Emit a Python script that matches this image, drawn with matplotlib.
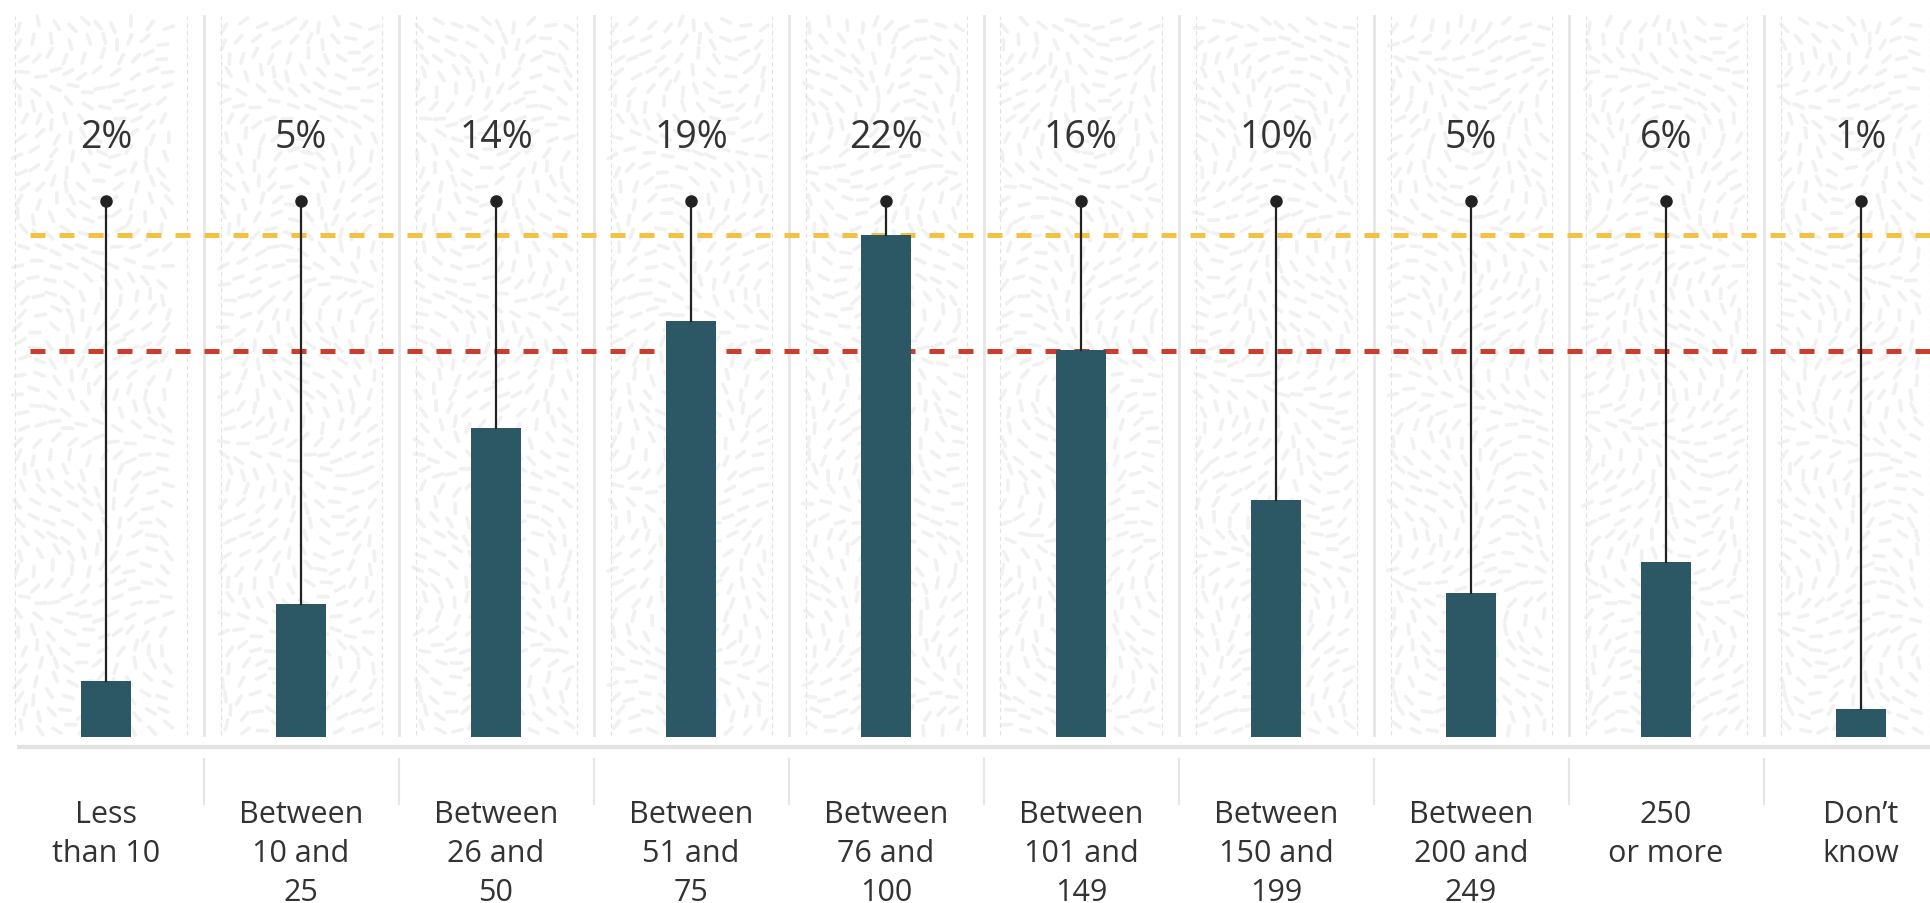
import numpy as np
import matplotlib
matplotlib.use("Agg")
import matplotlib.pyplot as plt
from matplotlib.collections import LineCollection

plt.rcParams['font.family'] = ['Open Sans', 'DejaVu Sans']

categories = ["Less\nthan 10", "Between\n10 and\n25", "Between\n26 and\n50",
              "Between\n51 and\n75", "Between\n76 and\n100", "Between\n101 and\n149",
              "Between\n150 and\n199", "Between\n200 and\n249", "250\nor more",
              "Don\u2019t\nknow"]
bar_values = [2.45, 5.83, 13.54, 18.23, 22.0, 16.96, 10.39, 6.31, 7.67, 1.23]
pct_labels = ["2%", "5%", "14%", "19%", "22%", "16%", "10%", "5%", "6%", "1%"]
upper_ref = 22.0
lower_ref = 16.9

bar_color = '#2c5866'
text_color = '#333333'
sep_color = '#e6e6e6'

# pixel scale of the reference: 195 px per column, 22.82 px per unit
PX_X, PX_Y = 195.0, 22.82

fig = plt.figure(figsize=(19.3, 9.04), dpi=100, facecolor='white')
ax = fig.add_axes([0, 0, 1, 1])
ax.set_xlim(-106 / PX_X, (1930 - 106) / PX_X)
ax.set_ylim(-166 / PX_Y, 738 / PX_Y)
ax.axis('off')

n = len(categories)
x = np.arange(n)
top = 31.6
dot_y = 23.5
edge = 17 / PX_X


def texture(ax, x0, x1, y0, y1):
    # short light strokes that drift in direction, like the reference panels
    px0, px1 = x0 * PX_X, x1 * PX_X
    py0, py1 = y0 * PX_Y, y1 * PX_Y
    segs = []
    step = 16.0
    gx = np.arange(px0 + 6, px1 - 6, step)
    gy = np.arange(py0 + 6, py1 - 6, step)
    for j, yy in enumerate(gy):
        for k, xx in enumerate(gx):
            ox = 4 * np.sin(j * 1.7 + k * 0.9)
            oy = 4 * np.cos(j * 0.8 + k * 2.1)
            th = 1.6 * np.sin(xx / 55.0 + yy / 90.0) + 1.2 * np.cos(yy / 40.0 - xx / 70.0)
            cx, cy = xx + ox, yy + oy
            dx, dy = 5.0 * np.cos(th), 5.0 * np.sin(th)
            segs.append([((cx - dx) / PX_X, (cy - dy) / PX_Y),
                         ((cx + dx) / PX_X, (cy + dy) / PX_Y)])
    ax.add_collection(LineCollection(segs, colors='#f1f1f1', linewidths=2.6,
                                     capstyle='round', zorder=1))


for i in x:
    left = i - 0.5 + edge
    right = i + 0.5 - edge if i < n - 1 else ax.get_xlim()[1]
    if i == 0:
        left = -91 / PX_X
    texture(ax, left, right, 0.1, top)
    for xe in (left, right):
        ax.plot([xe, xe], [0.1, top], color='#e2e2e2', lw=0.8,
                ls=(0, (4, 3)), zorder=1.5)

# column separators
for i in x[:-1]:
    ax.plot([i + 0.5, i + 0.5], [0.1, top], color=sep_color, lw=2, zorder=2)
    ax.plot([i + 0.5, i + 0.5], [-0.96, -2.94], color=sep_color, lw=1.5, zorder=2)

# baseline
ax.plot([-89 / PX_X, ax.get_xlim()[1]], [-0.44, -0.44], color='#e3e3e3',
        lw=3, solid_capstyle='butt', zorder=2)

# reference lines
xr = [-76 / PX_X, ax.get_xlim()[1]]
ax.plot(xr, [upper_ref, upper_ref], color='#f3c244', lw=3.6,
        ls=(0, (3, 2.8)), zorder=3)
ax.plot(xr, [lower_ref, lower_ref], color='#cc3d2d', lw=3.6,
        ls=(0, (3, 2.8)), zorder=3)

ax.bar(x, bar_values, width=50 / PX_X, color=bar_color, zorder=4)

for i, v in enumerate(bar_values):
    ax.plot([i, i], [v, dot_y], color='#222222', lw=1.6, zorder=5)
ax.plot(x, [dot_y] * n, 'o', color='#222222', ms=8, zorder=6)

for i, lab in enumerate(pct_labels):
    ax.text(i, 26.3, lab, ha='center', va='center', fontsize=27, color=text_color)

for i, cat in enumerate(categories):
    ax.text(i, -2.72, cat, ha='center', va='top', fontsize=22,
            color=text_color, linespacing=1.4)

fig.savefig('out.png', dpi=100, facecolor='white')
